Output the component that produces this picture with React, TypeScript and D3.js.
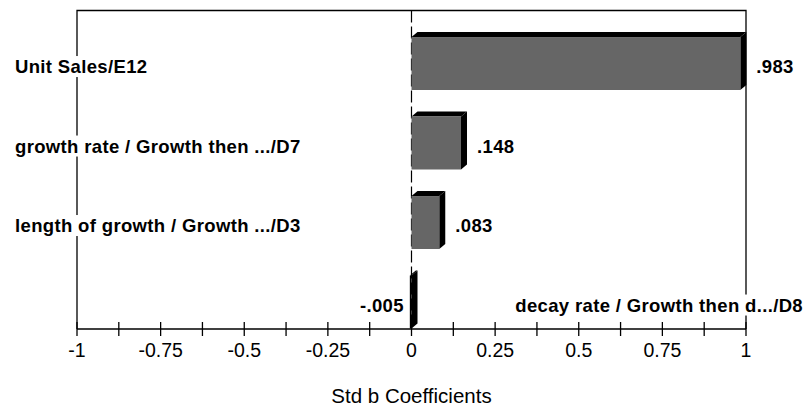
import React, { useEffect, useRef } from "react";
import * as d3 from "d3";

const categories = [
  "Unit Sales/E12",
  "growth rate / Growth then .../D7",
  "length of growth / Growth .../D3",
  "decay rate / Growth then d.../D8",
];
const coefficients = [0.983, 0.148, 0.083, -0.005];
const valueLabels = [".983", ".148", ".083", "-.005"];
const majorTicks = [-1, -0.75, -0.5, -0.25, 0, 0.25, 0.5, 0.75, 1];
const majorTickLabels = ["-1", "-0.75", "-0.5", "-0.25", "0", "0.25", "0.5", "0.75", "1"];
const minorTicks = [-0.875, -0.625, -0.375, -0.125, 0.125, 0.375, 0.625, 0.875];
const axisTitle = "Std b Coefficients";

const W = 806;
const H = 409;
const FONT = "'Liberation Sans', Arial, Helvetica, sans-serif";

export default function App() {
  const ref = useRef<SVGSVGElement | null>(null);

  useEffect(() => {
    const svg = d3.select(ref.current);
    svg.selectAll("*").remove();

    const left = 77, right = 746, top = 10.5, axisY = 329;
    const x = d3.scaleLinear().domain([-1, 1]).range([left, right]);
    const y = d3.scaleBand<string>().domain(categories).range([top, 328.5]).paddingInner(0).paddingOuter(0);
    const bw = y.bandwidth();
    const barH = bw * 0.666;
    const dx = 6, dy = 5;

    // frame
    const frame = svg.append("g").attr("stroke", "#000").attr("stroke-width", 1.3).attr("fill", "none");
    frame.append("path").attr("d", `M${left},${axisY} V${top} H${right} V${axisY}`);

    // zero line dashed
    svg.append("line")
      .attr("x1", x(0)).attr("x2", x(0)).attr("y1", top).attr("y2", axisY)
      .attr("stroke", "#000").attr("stroke-width", 1.2).attr("stroke-dasharray", "12,4");

    // bars
    const bars = svg.append("g");
    categories.forEach((c, i) => {
      const v = coefficients[i];
      const x0 = Math.min(x(0), x(v));
      const x1 = Math.max(x(0), x(v));
      const yb = (y(c) as number) + bw;
      const yt = yb - barH;
      bars.append("path")
        .attr("d", `M${x0},${yt} L${x0 + dx},${yt - dy} L${x1 + dx},${yt - dy} L${x1},${yt} Z`)
        .attr("fill", "#000");
      bars.append("path")
        .attr("d", `M${x1},${yt} L${x1 + dx},${yt - dy} L${x1 + dx},${yb - dy} L${x1},${yb} Z`)
        .attr("fill", "#000");
      bars.append("rect")
        .attr("x", x0).attr("y", yt).attr("width", Math.max(0, x1 - x0)).attr("height", barH)
        .attr("fill", v < 0 ? "#000" : "#666666");
    });

    // axis
    const axis = svg.append("g").attr("stroke", "#000").attr("stroke-width", 1.3);
    axis.append("line").attr("x1", left).attr("x2", right).attr("y1", axisY).attr("y2", axisY);
    [...majorTicks, ...minorTicks].forEach((t) => {
      axis.append("line").attr("x1", x(t)).attr("x2", x(t)).attr("y1", axisY - 7).attr("y2", axisY + 7);
    });
    const tl = svg.append("g").attr("font-family", FONT).attr("font-size", 19.5).attr("fill", "#000").attr("text-anchor", "middle");
    majorTicks.forEach((t, i) => {
      tl.append("text").attr("x", x(t)).attr("y", 357).text(majorTickLabels[i]);
    });
    svg.append("text")
      .attr("x", x(0)).attr("y", 403)
      .attr("text-anchor", "middle").attr("font-family", FONT).attr("font-size", 20.5)
      .text(axisTitle);

    // labels
    const lab = svg.append("g").attr("font-family", FONT).attr("font-size", 18.5)
      .attr("font-weight", "bold").attr("letter-spacing", 0.35).attr("fill", "#000");
    categories.forEach((c, i) => {
      const v = coefficients[i];
      const yb = (y(c) as number) + bw;
      const base = yb - barH / 2 + 9.5;
      const g = lab.append("g");
      const bg = g.append("rect").attr("fill", "#fff");
      const t = g.append("text").attr("y", base).text(c);
      if (v >= 0) {
        t.attr("x", 15);
      } else {
        t.attr("x", 803).attr("text-anchor", "end");
      }
      const bb = (t.node() as SVGTextElement).getBBox();
      bg.attr("x", bb.x - 2).attr("y", bb.y).attr("width", bb.width + 4).attr("height", bb.height);
      const vl = lab.append("text").attr("y", base).text(valueLabels[i]);
      if (v >= 0) {
        vl.attr("x", x(v) + 16);
      } else {
        vl.attr("x", x(v) - 6).attr("text-anchor", "end");
      }
    });
  }, []);

  return (
    <svg
      ref={ref}
      width={W}
      height={H}
      style={{ position: "absolute", left: 0, top: 0, background: "#fff" }}
    />
  );
}
